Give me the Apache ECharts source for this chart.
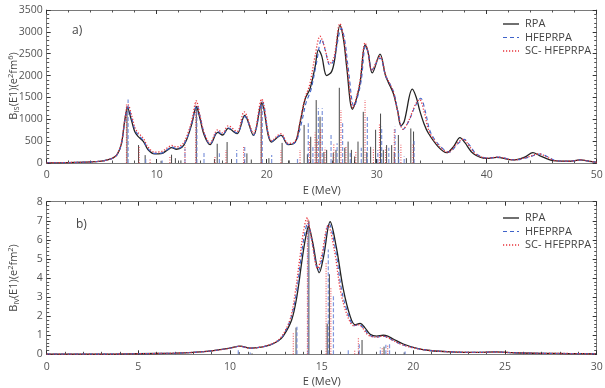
<!DOCTYPE html>
<html><head><meta charset="utf-8">
<script src="https://cdn.jsdelivr.net/npm/echarts@6/dist/echarts.min.js"></script>
<style>html,body{margin:0;padding:0;background:#fff}#c{width:605px;height:388px}</style>
</head><body><div id="c"></div>
<script>
// ---- Panel a) isoscalar strength (e^2 fm^6) ----
const rpaTop = [[0,5],[2,10],[4,25],[5,45],[5.5,70],[6,110],[6.4,190],[6.8,450],[7.1,980],[7.35,1260],[7.7,980],[8.0,720],[8.3,610],[8.8,490],[9.2,310],[9.8,210],[10.4,215],[11.0,300],[11.35,350],[11.8,315],[12.3,360],[12.7,520],[13.2,900],[13.6,1290],[13.95,1000],[14.3,650],[14.85,420],[15.55,700],[16.0,640],[16.5,790],[17.3,670],[18.0,1090],[18.8,630],[19.55,1370],[20.45,480],[21.3,630],[21.95,420],[22.6,480],[23.03,920],[23.5,1470],[23.94,1700],[24.4,2200],[24.7,2590],[25.0,2450],[25.45,2000],[25.9,2090],[26.2,2400],[26.66,3150],[27.0,2800],[27.27,2200],[27.8,1230],[28.2,1500],[28.5,1850],[28.94,2700],[29.2,2550],[29.6,2060],[30.3,2490],[30.8,2000],[31.05,1850],[31.5,1600],[31.9,1200],[32.2,850],[32.5,950],[33.24,1690],[33.6,1500],[33.9,1210],[34.3,900],[34.7,680],[35.6,370],[36.36,236],[37.0,380],[37.57,580],[38.0,470],[38.8,210],[40.0,105],[40.9,130],[42.4,70],[43.5,140],[44.2,236],[44.8,170],[46.05,55],[47.5,40],[48.5,70],[49.3,40],[50,16]];
const hfeTop = [[0,5],[2,10],[4,25],[5,45],[5.5,70],[6,110],[6.4,190],[6.8,440],[7.1,960],[7.4,1280],[7.75,1000],[8.05,740],[8.35,640],[8.8,510],[9.2,330],[9.8,220],[10.4,225],[11.0,310],[11.35,370],[11.8,330],[12.3,380],[12.7,540],[13.2,920],[13.65,1320],[14.0,1000],[14.35,660],[14.85,430],[15.55,720],[16.0,650],[16.5,800],[17.3,690],[18.0,1060],[18.8,640],[19.6,1400],[20.45,490],[21.3,640],[21.95,430],[22.6,470],[23.1,850],[23.6,1400],[24.0,1650],[24.5,2250],[25.0,2830],[25.3,2600],[25.75,2240],[26.1,2350],[26.8,3080],[27.1,2800],[27.4,2200],[27.95,1290],[28.3,1550],[28.6,1900],[29.0,2680],[29.25,2500],[29.55,2130],[30.3,2400],[30.8,2000],[31.1,1860],[31.55,1620],[31.95,1150],[32.4,770],[32.9,950],[33.5,1300],[34.0,1480],[34.4,1200],[34.9,700],[35.8,380],[36.6,250],[37.3,420],[37.95,540],[38.4,420],[39.1,200],[40.2,110],[41.0,135],[42.6,70],[43.8,130],[44.85,206],[45.4,160],[46.3,55],[47.5,40],[48.6,70],[49.3,40],[50,16]];
const scTop = [[0,5],[2,10],[4,25],[5,45],[5.5,70],[6,115],[6.4,200],[6.8,470],[7.1,1000],[7.4,1330],[7.75,1060],[8.05,790],[8.35,680],[8.8,560],[9.2,370],[9.8,250],[10.4,260],[11.0,350],[11.35,400],[11.8,370],[12.3,420],[12.7,590],[13.2,980],[13.6,1420],[13.95,1060],[14.3,700],[14.85,460],[15.55,760],[16.0,690],[16.5,850],[17.3,720],[17.95,1170],[18.8,680],[19.55,1460],[20.45,510],[21.3,670],[21.95,450],[22.6,500],[23.03,950],[23.5,1500],[23.9,1780],[24.4,2450],[24.85,2900],[25.2,2700],[25.75,2280],[26.1,2400],[26.66,3190],[27.0,2850],[27.3,2250],[27.85,1260],[28.2,1550],[28.5,1900],[28.95,2750],[29.2,2550],[29.55,2130],[30.3,2440],[30.8,2020],[31.05,1880],[31.5,1640],[31.9,1180],[32.4,770],[32.9,960],[33.5,1330],[33.9,1450],[34.3,1180],[34.8,700],[35.7,380],[36.5,245],[37.2,420],[37.85,545],[38.3,430],[39.0,205],[40.1,110],[40.95,135],[42.5,70],[43.7,135],[44.75,210],[45.3,160],[46.2,55],[47.5,40],[48.6,70],[49.3,40],[50,16]];
const rpaTopSticks = [[7.3,1300],[8.35,410],[8.95,180],[10.4,50],[11.35,190],[11.7,110],[12.2,60],[13.6,1300],[15.25,90],[15.5,440],[16.4,480],[16.8,90],[18.2,220],[18.6,80],[19.5,1400],[20.2,110],[21.4,460],[22.05,60],[23.4,870],[23.7,200],[24.0,600],[24.5,1440],[24.85,1060],[25.2,250],[25.45,300],[26.05,230],[26.3,300],[26.6,1720],[27.1,350],[27.4,490],[27.7,300],[28.0,150],[28.3,490],[28.78,1170],[29.1,250],[29.45,370],[29.9,760],[30.35,1130],[30.6,300],[30.9,410],[31.36,410],[31.6,250],[31.97,640],[32.7,110],[33.1,790],[33.35,720]];
const hfeTopSticks = [[7.4,1450],[9.0,100],[10.5,60],[12.57,330],[13.65,1250],[14.3,236],[15.7,222],[17.27,300],[18.0,373],[19.6,1350],[20.45,183],[22.8,120],[23.78,910],[24.2,400],[24.7,1250],[25.05,1250],[25.85,680],[26.4,450],[26.9,910],[27.6,250],[28.6,350],[29.15,1060],[30.1,300],[30.45,830],[31.1,350],[31.67,830],[32.0,300],[32.5,150],[33.4,520]];
const scTopSticks = [[7.25,1350],[8.4,380],[9.4,80],[11.2,150],[12.57,410],[13.55,1400],[15.3,150],[16.3,300],[17.9,400],[19.5,1450],[21.3,300],[23.03,300],[23.9,500],[24.4,700],[24.6,550],[24.9,800],[25.3,350],[26.1,450],[26.75,1210],[27.2,400],[28.1,250],[28.94,1440],[29.7,350],[30.25,900],[30.8,350],[31.6,790],[32.2,420],[33.3,450]];

// ---- Panel b) isovector strength (e^2 fm^2) ----
const rpaBot = [[0,0.01],[3,0.01],[5,0.03],[7,0.06],[8,0.1],[9,0.18],[10,0.32],[10.55,0.43],[11.1,0.32],[11.7,0.38],[12.2,0.5],[12.6,0.68],[12.9,0.95],[13.36,1.8],[13.64,3.0],[13.9,4.75],[14.1,6.0],[14.28,6.7],[14.5,5.9],[14.87,4.28],[15.1,5.1],[15.46,6.95],[15.8,5.6],[16.18,3.4],[16.55,2.0],[16.82,1.55],[17.1,1.62],[17.35,1.4],[17.64,1.05],[18.0,0.95],[18.36,1.0],[18.6,0.95],[18.9,0.8],[19.45,0.54],[20.2,0.31],[20.9,0.2],[22,0.13],[23.5,0.1],[24.5,0.13],[25.5,0.08],[27,0.05],[28.5,0.04],[30,0.02]];
const hfeBot = [[0,0.01],[3,0.01],[5,0.03],[7,0.06],[8,0.1],[9,0.18],[10,0.32],[10.5,0.42],[11.1,0.32],[11.7,0.38],[12.2,0.5],[12.6,0.7],[12.9,1.0],[13.3,1.85],[13.6,3.1],[13.85,4.9],[14.05,6.2],[14.24,6.9],[14.45,6.0],[14.82,4.4],[15.05,5.2],[15.4,6.85],[15.75,5.5],[16.1,3.3],[16.5,1.95],[16.78,1.5],[17.05,1.55],[17.3,1.35],[17.6,1.0],[18.0,0.9],[18.3,0.95],[18.55,0.9],[18.85,0.75],[19.4,0.5],[20.2,0.3],[20.9,0.2],[22,0.13],[23.5,0.1],[24.5,0.12],[25.5,0.08],[27,0.05],[28.5,0.04],[30,0.02]];
const scBot = [[0,0.01],[3,0.01],[5,0.03],[7,0.06],[8,0.1],[9,0.18],[10,0.32],[10.5,0.42],[11.1,0.32],[11.7,0.38],[12.2,0.52],[12.6,0.72],[12.9,1.05],[13.3,1.9],[13.55,3.2],[13.8,5.0],[14.0,6.4],[14.2,7.15],[14.42,6.2],[14.78,4.5],[15.0,5.2],[15.35,6.75],[15.7,5.4],[16.05,3.2],[16.45,1.9],[16.75,1.5],[17.0,1.55],[17.25,1.35],[17.55,1.0],[18.0,0.9],[18.3,0.95],[18.55,0.9],[18.85,0.75],[19.4,0.5],[20.2,0.3],[20.9,0.2],[22,0.13],[23.5,0.1],[24.5,0.12],[25.5,0.08],[27,0.05],[28.5,0.04],[30,0.02]];
const rpaBotSticks = [[10.5,0.12],[11.2,0.05],[13.6,1.4],[14.3,7.0],[15.3,1.6],[15.42,4.2],[17.2,0.75],[18.4,0.4],[19.5,0.1]];
const hfeBotSticks = [[10.45,0.3],[11.1,0.1],[13.65,1.45],[14.25,6.5],[15.36,5.5],[15.64,3.1],[16.45,0.3],[17.05,0.6],[18.2,0.35],[18.5,0.5],[18.7,0.55],[19.55,0.15]];
const scBotSticks = [[13.45,1.1],[14.22,7.2],[15.24,4.85],[15.5,3.5],[16.8,0.25],[17.0,0.84],[18.3,0.4],[18.6,0.45]];

const names = ['RPA','HFEPRPA','SC- HFEPRPA'];
const colBlack = '#222222', colBlue = '#3f63c9', colRed = '#e8343c';
const FONT = 'Open Sans';
const axCol = '#7a7a7a';
const lblStyle = {color:'#555', fontSize:10.5, fontFamily:FONT, formatter:function(v){return String(v);}};
const dashBlue = [4,3], dashRed = [1.2,1.8];

function xAx(gi, max, interval, pos, labels) {
  return {type:'value', gridIndex:gi, min:0, max:max, interval:interval, position:pos,
    axisLine:{show:true, onZero:false, lineStyle:{color:axCol, width:1}},
    axisTick:{show:true, inside:true, length:4, lineStyle:{color:'#333'}},
    minorTick:{show:true, splitNumber:5, length:2.5, lineStyle:{color:'#555'}},
    splitLine:{show:false}, minorSplitLine:{show:false},
    axisLabel:{show:labels, margin:7, ...lblStyle},
    name: labels ? 'E (MeV)' : '', nameLocation:'middle', nameGap:22, nameTextStyle:{color:'#444', fontSize:11, fontFamily:FONT}};
}
function yAx(gi, max, interval, pos, labels) {
  return {type:'value', gridIndex:gi, min:0, max:max, interval:interval, position:pos,
    axisLine:{show:true, onZero:false, lineStyle:{color:axCol, width:1}},
    axisTick:{show:true, inside:true, length:4, lineStyle:{color:'#333'}},
    minorTick:{show:true, splitNumber:5, length:2.5, lineStyle:{color:'#555'}},
    splitLine:{show:false}, minorSplitLine:{show:false},
    axisLabel:{show:labels, margin:4, ...lblStyle}};
}
function curve(name, data, xi, yi, color, type, w) {
  return {type:'line', name:name, xAxisIndex:xi, yAxisIndex:yi, data:data, smooth:0.35, showSymbol:false, symbol:'none',
    lineStyle:{color:color, width:w, type:type}, itemStyle:{color:color}, z:5, animation:false};
}
function sticks(data, xi, yi, color, dash, w, op) {
  return {type:'custom', xAxisIndex:xi, yAxisIndex:yi, data:data, encode:{x:0,y:1}, z:3, animation:false, silent:true,
    renderItem:function(params, api){
      const p0 = api.coord([api.value(0), 0]);
      const p1 = api.coord([api.value(0), api.value(1)]);
      return {type:'line', shape:{x1:p0[0], y1:p0[1], x2:p1[0], y2:p1[1]},
        style:{stroke:color, lineWidth:w, lineDash:dash, opacity:op}};
    }};
}
function legendGraphics(top) {
  const items = [];
  const styles = [[colBlack,null,1.3],[colBlue,dashBlue,1.1],[colRed,dashRed,1.3]];
  names.forEach(function(n,i){
    const y = top + i*13.5;
    items.push({type:'line', shape:{x1:503, y1:y, x2:519, y2:y}, style:{stroke:styles[i][0], lineDash:styles[i][1], lineWidth:styles[i][2]}});
    items.push({type:'text', x:525, y:y, style:{text:n, fill:'#444', font:'11px "Open Sans"', verticalAlign:'middle'}});
  });
  return items;
}
const richName = {
  n:{fontSize:11, fill:'#444', fontFamily:FONT},
  s:{fontSize:7.5, fill:'#444', fontFamily:FONT, padding:[5,0,0,0]},
  p:{fontSize:7.5, fill:'#444', fontFamily:FONT, padding:[0,0,6,0]}
};
function yName(sub, pw, cy) {
  return {type:'text', x:14, y:cy, rotation:Math.PI/2,
    style:{text:'{n|B}{s|'+sub+'}{n|(E1)(e}{p|2}{n|fm}{p|'+pw+'}{n|)}', rich:richName, align:'center', verticalAlign:'middle'}};
}

const chart = echarts.init(document.getElementById('c'), null, {renderer:'canvas'});
chart.setOption({
  backgroundColor:'#fff',
  animation:false,
  grid:[{left:46.7, right:8.3, top:10, height:153, containLabel:false, outerBoundsMode:'none'},
        {left:46.7, right:8.3, top:201.7, height:152.6, containLabel:false, outerBoundsMode:'none'}],
  xAxis:[xAx(0,50,10,'bottom',true), xAx(0,50,10,'top',false), xAx(1,30,5,'bottom',true), xAx(1,30,5,'top',false)],
  yAxis:[yAx(0,3500,500,'left',true), yAx(0,3500,500,'right',false),
         yAx(1,8,1,'left',true), yAx(1,8,1,'right',false)],
  graphic:[
    {type:'text', left:72, top:25, style:{text:'a)', fill:'#444', font:'12px "Open Sans"'}},
    {type:'text', left:76, top:219, style:{text:'b)', fill:'#444', font:'12px "Open Sans"'}},
    yName('IS','6',86),
    yName('IV','2',278)
  ].concat(legendGraphics(24), legendGraphics(218)),
  series:[
    curve(names[0], rpaTop, 0, 0, colBlack, 'solid', 1.3),
    curve(names[1], hfeTop, 0, 0, colBlue, dashBlue, 1.1),
    curve(names[2], scTop, 0, 0, colRed, dashRed, 1.3),
    sticks(rpaTopSticks, 0, 0, '#333', null, 1, 0.9),
    sticks(hfeTopSticks, 0, 0, '#6a84d6', [4,2], 1.2, 0.85),
    sticks(scTopSticks, 0, 0, colRed, [1,1.5], 1.1, 0.85),
    curve(names[0], rpaBot, 2, 2, colBlack, 'solid', 1.3),
    curve(names[1], hfeBot, 2, 2, colBlue, dashBlue, 1.1),
    curve(names[2], scBot, 2, 2, colRed, dashRed, 1.3),
    sticks(rpaBotSticks, 2, 2, '#333', null, 1, 0.9),
    sticks(hfeBotSticks, 2, 2, '#6a84d6', [4,2], 1.2, 0.85),
    sticks(scBotSticks, 2, 2, colRed, [1,1.5], 1.1, 0.85)
  ]
});
</script>
</body></html>
